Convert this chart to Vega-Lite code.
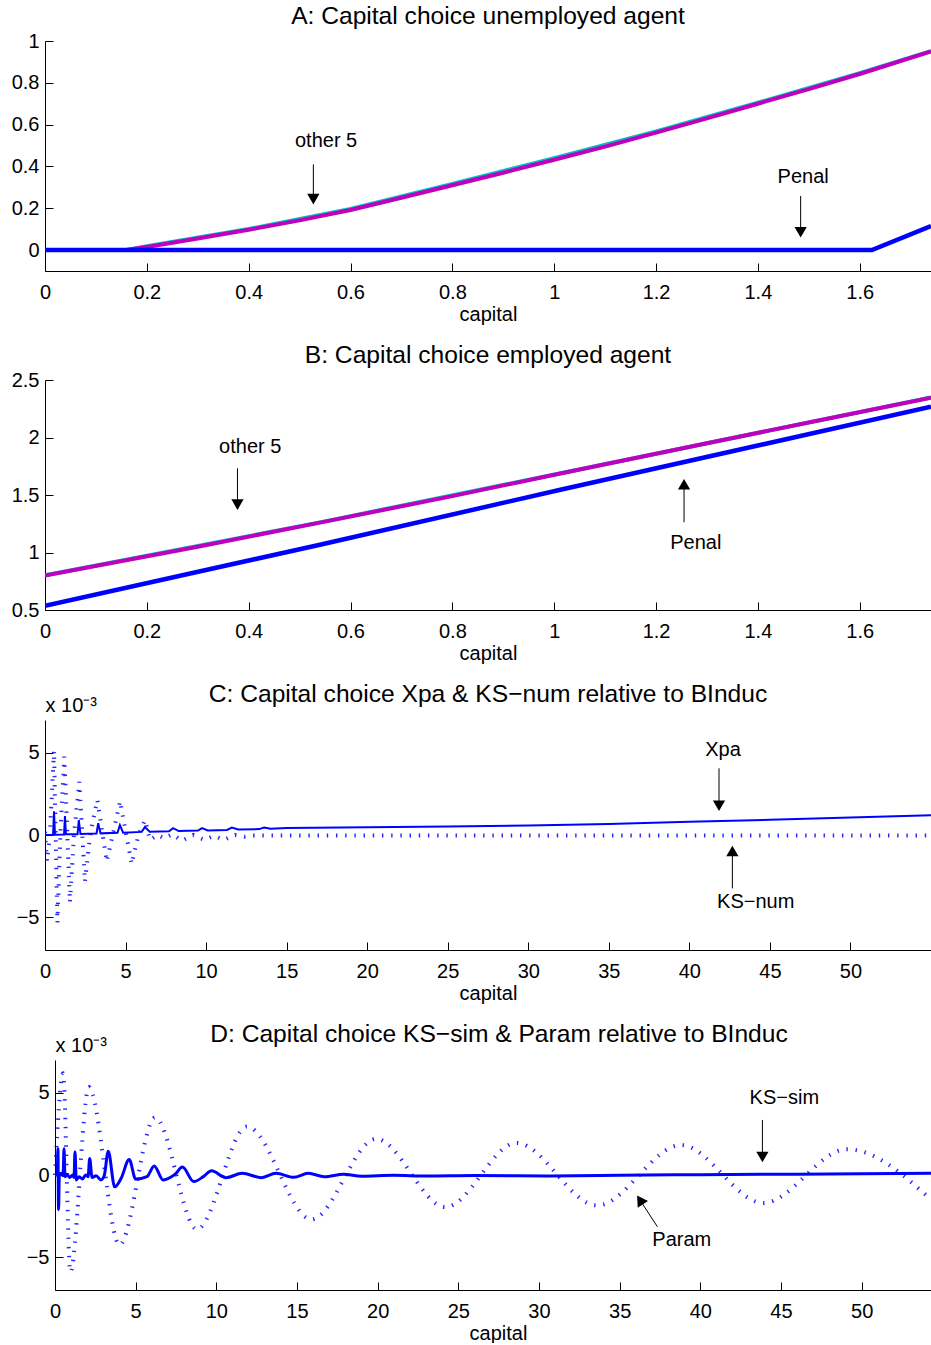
{
  "$schema": "https://vega.github.io/schema/vega-lite/v6.json",
  "background": "white",
  "padding": {"left": 0, "right": 0, "top": 4, "bottom": 0},
  "columns": 1,
  "align": "none",
  "spacing": 19,
  "concat": [
    {
      "width": 886, "height": 230,
      "title": {"text": "A: Capital choice unemployed agent", "offset": 1},
      "encoding": {
        "x": {"field": "capital", "type": "quantitative", "scale": {"domain": [0, 1.74], "nice": false, "zero": false}, "axis": {"values": [0, 0.2, 0.4, 0.6, 0.8, 1, 1.2, 1.4, 1.6], "format": "~g", "title": "capital"}},
        "y": {"field": "value", "type": "quantitative", "scale": {"domain": [-0.1, 1], "nice": false, "zero": false}, "axis": {"values": [0, 0.2, 0.4, 0.6, 0.8, 1], "format": "~g", "title": null, "minExtent": 45, "maxExtent": 45}}
      },
      "layer": [
        {"data": {"name": "A_cyan"}, "mark": {"type": "line", "color": "#00bfbf", "strokeWidth": 4, "clip": true}},
        {"data": {"name": "A_magenta"}, "mark": {"type": "line", "color": "#bf00bf", "strokeWidth": 4, "clip": true}},
        {"data": {"name": "A_penal"}, "mark": {"type": "line", "color": "#0000ff", "strokeWidth": 4.5, "clip": true}},
        {"data": {"name": "A_shafts"}, "mark": {"type": "rule", "color": "#000000", "strokeWidth": 1}, "encoding": {"y2": {"field": "value2"}}},
        {"data": {"name": "A_heads_down"}, "mark": {"type": "point", "shape": "triangle-down", "filled": true, "color": "#000000", "size": 150, "opacity": 1, "strokeWidth": 0}},
        {"data": {"name": "A_labels"}, "mark": {"type": "text", "font": "Liberation Sans", "fontSize": 20, "color": "#000000", "align": "center", "baseline": "middle"}, "encoding": {"text": {"field": "label"}}}
      ]
    },
    {
      "width": 886, "height": 230,
      "title": {"text": "B: Capital choice employed agent", "offset": 1},
      "encoding": {
        "x": {"field": "capital", "type": "quantitative", "scale": {"domain": [0, 1.74], "nice": false, "zero": false}, "axis": {"values": [0, 0.2, 0.4, 0.6, 0.8, 1, 1.2, 1.4, 1.6], "format": "~g", "title": "capital"}},
        "y": {"field": "value", "type": "quantitative", "scale": {"domain": [0.5, 2.5], "nice": false, "zero": false}, "axis": {"values": [0.5, 1, 1.5, 2, 2.5], "format": "~g", "title": null, "minExtent": 45, "maxExtent": 45}}
      },
      "layer": [
        {"data": {"name": "B_cyan"}, "mark": {"type": "line", "color": "#00bfbf", "strokeWidth": 4, "clip": true}},
        {"data": {"name": "B_magenta"}, "mark": {"type": "line", "color": "#bf00bf", "strokeWidth": 4, "clip": true}},
        {"data": {"name": "B_penal"}, "mark": {"type": "line", "color": "#0000ff", "strokeWidth": 4.5, "clip": true}},
        {"data": {"name": "B_shafts"}, "mark": {"type": "rule", "color": "#000000", "strokeWidth": 1}, "encoding": {"y2": {"field": "value2"}}},
        {"data": {"name": "B_heads_down"}, "mark": {"type": "point", "shape": "triangle-down", "filled": true, "color": "#000000", "size": 150, "opacity": 1, "strokeWidth": 0}},
        {"data": {"name": "B_heads_up"}, "mark": {"type": "point", "shape": "triangle-up", "filled": true, "color": "#000000", "size": 150, "opacity": 1, "strokeWidth": 0}},
        {"data": {"name": "B_labels"}, "mark": {"type": "text", "font": "Liberation Sans", "fontSize": 20, "color": "#000000", "align": "center", "baseline": "middle"}, "encoding": {"text": {"field": "label"}}}
      ]
    },
    {
      "width": 886, "height": 230,
      "title": {"text": "C: Capital choice Xpa & KS−num relative to BInduc", "offset": -13},
      "encoding": {
        "x": {"field": "capital", "type": "quantitative", "scale": {"domain": [0, 55], "nice": false, "zero": false}, "axis": {"values": [0, 5, 10, 15, 20, 25, 30, 35, 40, 45, 50], "format": "~g", "title": "capital"}},
        "y": {"field": "value", "type": "quantitative", "scale": {"domain": [-7, 7], "nice": false, "zero": false}, "axis": {"values": [-5, 0, 5], "format": "~g", "title": "x 10⁻³", "titleAngle": 0, "titleAlign": "left", "titleBaseline": "alphabetic", "titleX": 0, "titleY": -9, "minExtent": 45, "maxExtent": 45}}
      },
      "layer": [
        {"data": {"name": "C_ksnum"}, "mark": {"type": "line", "color": "#0000ff", "strokeWidth": 4, "strokeDash": [1.4, 7.8], "strokeCap": "butt", "opacity": 0.85, "clip": true}},
        {"data": {"name": "C_xpa"}, "mark": {"type": "line", "color": "#0000ff", "strokeWidth": 2, "clip": true}},
        {"data": {"name": "C_shafts"}, "mark": {"type": "rule", "color": "#000000", "strokeWidth": 1}, "encoding": {"y2": {"field": "value2"}}},
        {"data": {"name": "C_heads_down"}, "mark": {"type": "point", "shape": "triangle-down", "filled": true, "color": "#000000", "size": 150, "opacity": 1, "strokeWidth": 0}},
        {"data": {"name": "C_heads_up"}, "mark": {"type": "point", "shape": "triangle-up", "filled": true, "color": "#000000", "size": 150, "opacity": 1, "strokeWidth": 0}},
        {"data": {"name": "C_labels"}, "mark": {"type": "text", "font": "Liberation Sans", "fontSize": 20, "color": "#000000", "align": "center", "baseline": "middle"}, "encoding": {"text": {"field": "label"}}}
      ]
    },
    {
      "width": 886, "height": 230,
      "title": {"text": "D: Capital choice KS−sim & Param relative to BInduc", "offset": -13, "dx": 11},
      "encoding": {
        "x": {"field": "capital", "type": "quantitative", "scale": {"domain": [0, 54.3], "range": [10, 886], "nice": false, "zero": false}, "axis": {"values": [0, 5, 10, 15, 20, 25, 30, 35, 40, 45, 50], "format": "~g", "title": "capital", "titleX": 453, "titleAlign": "center"}},
        "y": {"field": "value", "type": "quantitative", "scale": {"domain": [-7, 7], "nice": false, "zero": false}, "axis": {"values": [-5, 0, 5], "format": "~g", "offset": -10, "title": "x 10⁻³", "titleAngle": 0, "titleAlign": "left", "titleBaseline": "alphabetic", "titleX": 0, "titleY": -9, "minExtent": 45, "maxExtent": 45}}
      },
      "layer": [
        {"data": {"name": "D_kssim"}, "mark": {"type": "line", "color": "#0000ff", "strokeWidth": 4, "strokeDash": [1.4, 7.8], "strokeCap": "butt", "opacity": 0.85, "interpolate": "monotone", "clip": true}},
        {"data": {"name": "D_param"}, "mark": {"type": "line", "color": "#0000ff", "strokeWidth": 3, "interpolate": "monotone", "clip": true}},
        {"data": {"name": "D_shafts"}, "mark": {"type": "rule", "color": "#000000", "strokeWidth": 1}, "encoding": {"x2": {"field": "capital2"}, "y2": {"field": "value2"}}},
        {"data": {"name": "D_heads_down"}, "mark": {"type": "point", "shape": "triangle-down", "filled": true, "color": "#000000", "size": 150, "opacity": 1, "strokeWidth": 0}},
        {"data": {"name": "D_heads_upleft"}, "mark": {"type": "point", "shape": "triangle-up", "angle": 327, "filled": true, "color": "#000000", "size": 150, "opacity": 1, "strokeWidth": 0}},
        {"data": {"name": "D_labels"}, "mark": {"type": "text", "font": "Liberation Sans", "fontSize": 20, "color": "#000000", "align": "center", "baseline": "middle"}, "encoding": {"text": {"field": "label"}}}
      ]
    }
  ],
  "config": {
    "font": "Liberation Sans",
    "view": {"stroke": null},
    "axis": {"grid": false, "domainColor": "#000000", "domainWidth": 1, "tickColor": "#000000", "tickWidth": 1, "tickSize": -8, "labelColor": "#000000", "labelFont": "Liberation Sans", "labelFontSize": 20, "titleColor": "#000000", "titleFont": "Liberation Sans", "titleFontSize": 20, "titleFontWeight": "normal", "labelFlush": false},
    "axisX": {"labelPadding": 19, "titlePadding": 2},
    "axisY": {"labelPadding": 14},
    "title": {"font": "Liberation Sans", "fontSize": 24.6, "fontWeight": "normal", "color": "#000000", "frame": "group", "anchor": "middle"}
  },
  "datasets": {
    "A_penal": [{"capital": 0, "value": 0}, {"capital": 1.624, "value": 0}, {"capital": 1.74, "value": 0.115}],
    "A_magenta": [{"capital": 0, "value": 0}, {"capital": 0.16, "value": 0}, {"capital": 0.2, "value": 0.015}, {"capital": 0.3, "value": 0.055}, {"capital": 0.4, "value": 0.097}, {"capital": 0.5, "value": 0.142}, {"capital": 0.6, "value": 0.192}, {"capital": 0.7, "value": 0.25}, {"capital": 0.8, "value": 0.31}, {"capital": 0.9, "value": 0.37}, {"capital": 1.0, "value": 0.432}, {"capital": 1.1, "value": 0.495}, {"capital": 1.2, "value": 0.562}, {"capital": 1.3, "value": 0.63}, {"capital": 1.4, "value": 0.7}, {"capital": 1.5, "value": 0.77}, {"capital": 1.6, "value": 0.842}, {"capital": 1.74, "value": 0.95}],
    "A_cyan": [{"capital": 0, "value": 0}, {"capital": 0.16, "value": 0}, {"capital": 0.2, "value": 0.018}, {"capital": 0.4, "value": 0.101}, {"capital": 0.6, "value": 0.197}, {"capital": 0.8, "value": 0.316}, {"capital": 1.0, "value": 0.44}, {"capital": 1.2, "value": 0.568}, {"capital": 1.4, "value": 0.705}, {"capital": 1.6, "value": 0.846}, {"capital": 1.74, "value": 0.952}],
    "A_labels": [{"label": "other 5", "capital": 0.552, "value": 0.522}, {"label": "Penal", "capital": 1.489, "value": 0.35}],
    "A_shafts": [{"capital": 0.527, "value": 0.41, "value2": 0.244}, {"capital": 1.484, "value": 0.259, "value2": 0.085}],
    "A_heads_down": [{"capital": 0.527, "value": 0.244}, {"capital": 1.484, "value": 0.085}],
    "B_penal": [{"capital": 0, "value": 0.537}, {"capital": 0.54, "value": 1.068}, {"capital": 1.01, "value": 1.543}, {"capital": 1.74, "value": 2.268}],
    "B_magenta": [{"capital": 0, "value": 0.8}, {"capital": 0.3, "value": 1.05}, {"capital": 0.54, "value": 1.26}, {"capital": 0.8, "value": 1.49}, {"capital": 1.01, "value": 1.685}, {"capital": 1.3, "value": 1.95}, {"capital": 1.5, "value": 2.13}, {"capital": 1.74, "value": 2.346}],
    "B_cyan": [{"capital": 0, "value": 0.802}, {"capital": 0.54, "value": 1.262}, {"capital": 1.01, "value": 1.687}, {"capital": 1.74, "value": 2.348}],
    "B_labels": [{"label": "other 5", "capital": 0.403, "value": 1.92}, {"label": "Penal", "capital": 1.278, "value": 1.08}],
    "B_shafts": [{"capital": 0.378, "value": 1.732, "value2": 1.416}, {"capital": 1.255, "value": 1.263, "value2": 1.593}],
    "B_heads_down": [{"capital": 0.378, "value": 1.416}],
    "B_heads_up": [{"capital": 1.255, "value": 1.593}],
    "C_xpa": [{"capital": 0, "value": 0}, {"capital": 0.5, "value": 0.01}, {"capital": 0.56, "value": 1.45}, {"capital": 0.62, "value": 0.02}, {"capital": 1.18, "value": 0.03}, {"capital": 1.24, "value": 1.15}, {"capital": 1.3, "value": 0.04}, {"capital": 2.02, "value": 0.05}, {"capital": 2.1, "value": 0.9}, {"capital": 2.2, "value": 0.06}, {"capital": 3.2, "value": 0.09}, {"capital": 3.3, "value": 0.72}, {"capital": 3.45, "value": 0.1}, {"capital": 4.5, "value": 0.13}, {"capital": 4.65, "value": 0.6}, {"capital": 4.85, "value": 0.14}, {"capital": 6.0, "value": 0.19}, {"capital": 6.2, "value": 0.48}, {"capital": 6.5, "value": 0.2}, {"capital": 7.7, "value": 0.23}, {"capital": 7.95, "value": 0.42}, {"capital": 8.3, "value": 0.24}, {"capital": 9.5, "value": 0.27}, {"capital": 9.75, "value": 0.42}, {"capital": 10.1, "value": 0.28}, {"capital": 11.3, "value": 0.31}, {"capital": 11.6, "value": 0.45}, {"capital": 12.0, "value": 0.33}, {"capital": 13.3, "value": 0.36}, {"capital": 13.6, "value": 0.46}, {"capital": 14.0, "value": 0.38}, {"capital": 15, "value": 0.42}, {"capital": 20, "value": 0.47}, {"capital": 25, "value": 0.51}, {"capital": 30, "value": 0.58}, {"capital": 35, "value": 0.67}, {"capital": 40, "value": 0.8}, {"capital": 45, "value": 0.93}, {"capital": 50, "value": 1.07}, {"capital": 55, "value": 1.2}],
    "C_ksnum": [{"capital": 0, "value": 0.2}, {"capital": 0.12, "value": -1.6}, {"capital": 0.3, "value": 0}, {"capital": 0.56, "value": 5.13}, {"capital": 0.77, "value": -5.34}, {"capital": 0.95, "value": 0}, {"capital": 1.2, "value": 4.77}, {"capital": 1.55, "value": -4.1}, {"capital": 1.8, "value": 0}, {"capital": 2.13, "value": 3.24}, {"capital": 2.48, "value": -2.84}, {"capital": 2.8, "value": 0}, {"capital": 3.25, "value": 2.13}, {"capital": 3.83, "value": -1.62}, {"capital": 4.2, "value": 0}, {"capital": 4.66, "value": 2.07}, {"capital": 5.38, "value": -1.77}, {"capital": 5.8, "value": 0}, {"capital": 6.21, "value": 0.91}, {"capital": 6.52, "value": -0.3}, {"capital": 7.0, "value": 0}, {"capital": 7.4, "value": -0.2}, {"capital": 7.9, "value": 0.05}, {"capital": 8.5, "value": -0.35}, {"capital": 9.2, "value": 0}, {"capital": 9.9, "value": -0.3}, {"capital": 10.5, "value": -0.05}, {"capital": 11.1, "value": -0.3}, {"capital": 11.8, "value": 0}, {"capital": 12.4, "value": -0.1}, {"capital": 13, "value": -0.03}, {"capital": 55, "value": -0.03}],
    "C_labels": [{"label": "Xpa", "capital": 42.09, "value": 5.17}, {"label": "KS−num", "capital": 44.12, "value": -4.06}],
    "C_shafts": [{"capital": 41.84, "value": 4.06, "value2": 1.78}, {"capital": 42.67, "value": -3.25, "value2": -0.97}],
    "C_heads_down": [{"capital": 41.84, "value": 1.78}],
    "C_heads_up": [{"capital": 42.67, "value": -0.97}],
    "D_param": [{"capital": 0, "value": 0}, {"capital": 0.14, "value": 0}, {"capital": 0.18, "value": 1.6}, {"capital": 0.22, "value": -2.1}, {"capital": 0.27, "value": 0}, {"capital": 0.4, "value": 0.1}, {"capital": 0.5, "value": -0.05}, {"capital": 0.56, "value": 1.6}, {"capital": 0.62, "value": -0.1}, {"capital": 0.75, "value": 0.05}, {"capital": 0.9, "value": -0.15}, {"capital": 1.1, "value": 0}, {"capital": 1.18, "value": -0.15}, {"capital": 1.24, "value": 1.4}, {"capital": 1.32, "value": -0.3}, {"capital": 1.5, "value": -0.1}, {"capital": 1.7, "value": -0.25}, {"capital": 1.9, "value": 0}, {"capital": 2.05, "value": -0.1}, {"capital": 2.15, "value": 1.0}, {"capital": 2.3, "value": -0.15}, {"capital": 2.55, "value": -0.05}, {"capital": 2.85, "value": -0.3}, {"capital": 3.05, "value": -0.05}, {"capital": 3.3, "value": 1.45}, {"capital": 3.7, "value": -0.72}, {"capital": 4.1, "value": -0.2}, {"capital": 4.6, "value": 0.95}, {"capital": 5.0, "value": -0.25}, {"capital": 5.7, "value": -0.1}, {"capital": 6.15, "value": 0.55}, {"capital": 6.7, "value": -0.3}, {"capital": 7.45, "value": 0.05}, {"capital": 7.9, "value": 0.48}, {"capital": 8.6, "value": -0.4}, {"capital": 9.2, "value": -0.1}, {"capital": 9.7, "value": 0.26}, {"capital": 10.6, "value": -0.16}, {"capital": 11.6, "value": 0.1}, {"capital": 12.8, "value": -0.16}, {"capital": 13.7, "value": 0.1}, {"capital": 14.8, "value": -0.14}, {"capital": 15.7, "value": 0.1}, {"capital": 16.7, "value": -0.1}, {"capital": 17.9, "value": 0.05}, {"capital": 19.0, "value": -0.08}, {"capital": 21, "value": -0.02}, {"capital": 23, "value": -0.06}, {"capital": 26, "value": -0.03}, {"capital": 30.7, "value": -0.06}, {"capital": 35, "value": -0.02}, {"capital": 40, "value": 0.02}, {"capital": 43.9, "value": 0.04}, {"capital": 50, "value": 0.07}, {"capital": 54.3, "value": 0.1}],
    "D_kssim": [{"capital": 0, "value": 0}, {"capital": 0.5, "value": 6.2}, {"capital": 0.95, "value": -5.9}, {"capital": 2.1, "value": 5.35}, {"capital": 4.0, "value": -4.25}, {"capital": 6.2, "value": 3.5}, {"capital": 8.8, "value": -3.3}, {"capital": 11.9, "value": 2.95}, {"capital": 15.9, "value": -2.7}, {"capital": 19.9, "value": 2.2}, {"capital": 24.2, "value": -1.95}, {"capital": 28.6, "value": 1.95}, {"capital": 33.6, "value": -1.85}, {"capital": 38.8, "value": 1.82}, {"capital": 43.9, "value": -1.7}, {"capital": 49.1, "value": 1.57}, {"capital": 54.3, "value": -1.5}],
    "D_labels": [{"label": "KS−sim", "capital": 45.21, "value": 4.67}, {"label": "Param", "capital": 38.85, "value": -3.96}],
    "D_shafts": [{"capital": 43.85, "value": 3.35, "capital2": 43.85, "value2": 1.1}, {"capital": 37.34, "value": -3.15, "capital2": 36.26, "value2": -1.52}],
    "D_heads_down": [{"capital": 43.85, "value": 1.1}],
    "D_heads_upleft": [{"capital": 36.26, "value": -1.52}]
  }
}
